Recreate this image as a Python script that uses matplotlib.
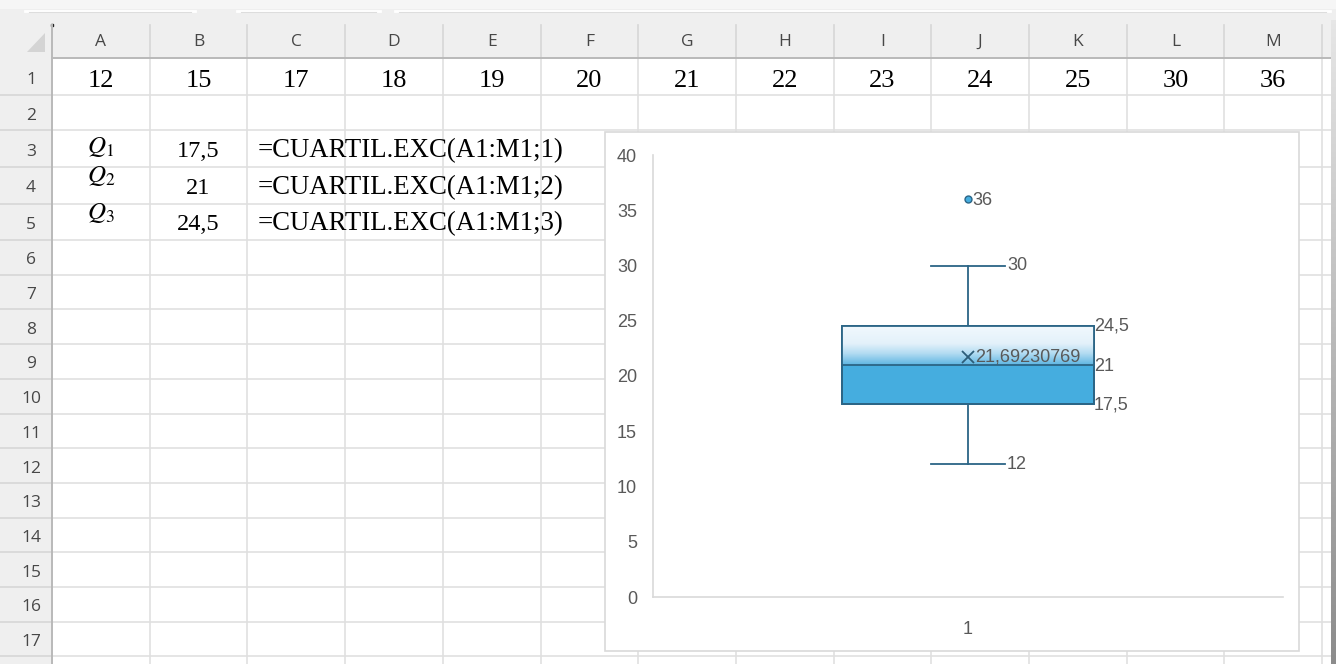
import numpy as np
import matplotlib
matplotlib.use("Agg")
import matplotlib.pyplot as plt
from matplotlib.patches import Rectangle, Polygon, PathPatch
from matplotlib.colors import LinearSegmentedColormap

# Row 1 of the sheet: the data set
columns = list("ABCDEFGHIJKLM")
values = [12, 15, 17, 18, 19, 20, 21, 22, 23, 24, 25, 30, 36]

# Quartiles (CUARTIL.EXC) in rows 3-5
quartile_names = [r"$Q_1$", r"$Q_2$", r"$Q_3$"]
quartiles = [17.5, 21, 24.5]
formulas = ["=CUARTIL.EXC(A1:M1;1)", "=CUARTIL.EXC(A1:M1;2)", "=CUARTIL.EXC(A1:M1;3)"]

# Whisker ends, outliers and category of the box plot
whisker_low, whisker_high = 12, 30
outliers = [36]
category = "1"
y_ticks = [0, 5, 10, 15, 20, 25, 30, 35, 40]


def fmt(v, digits=10):
    return ("%.*g" % (digits, v)).replace(".", ",")


W, H = 1336, 664
fig = plt.figure(figsize=(W / 100, H / 100), dpi=100)
fig.patch.set_facecolor("white")

# ---------------- spreadsheet ----------------
ax = fig.add_axes([0, 0, 1, 1])
ax.set_xlim(0, W)
ax.set_ylim(H, 0)
ax.axis("off")

col_edges = 52 + 97.7 * np.arange(len(columns) + 1)
row_edges = [58, 95, 130, 167, 204, 240] + list(240 + 34.7 * np.arange(1, 13))

head_bg = "#efefef"
grid_c = "#e0e0e0"
ax.add_patch(Rectangle((0, 0), W, 58, fc=head_bg, ec="none", zorder=0))
ax.add_patch(Rectangle((0, 58), 52, H - 58, fc=head_bg, ec="none", zorder=0))
ax.add_patch(Rectangle((0, 0), W, 9, fc="#f6f6f6", ec="none", zorder=0))
# tab outlines along the top band
for x0, x1 in [(25, 195), (237, 380), (395, 1330)]:
    ax.plot([x0, x1], [10.5, 10.5], color="#ffffff", lw=2, zorder=1)
    ax.plot([x0 + 4, x1 - 4], [12, 12], color="#dddddd", lw=0.8, zorder=1)

# select-all triangle and corner dot
ax.add_patch(Polygon([[45, 33], [45, 52], [27, 52]], closed=True,
                     fc="#d4d4d4", ec="none", zorder=1))
ax.plot([52], [25], marker="s", ms=1.5, color="#222222", zorder=2)

# gridlines
for y in row_edges[1:]:
    ax.plot([52, 1331], [y, y], color=grid_c, lw=1.2, zorder=1)
    ax.plot([0, 52], [y, y], color="#d6d6d6", lw=1.2, zorder=1)
for x in col_edges[1:]:
    ax.plot([x, x], [58, H], color=grid_c, lw=1.2, zorder=1)
    ax.plot([x, x], [25, 58], color="#d6d6d6", lw=1.2, zorder=1)
ax.plot([52, 1331], [58, 58], color="#b9b9b9", lw=1.4, zorder=2)
ax.plot([52, 52], [25, H], color="#b9b9b9", lw=1.4, zorder=2)

# column letters and row numbers
hdr_font = dict(family="Open Sans", fontsize=12.5, color="#474747")
for i, c in enumerate(columns):
    ax.text((col_edges[i] + col_edges[i + 1]) / 2, 42, c, ha="center",
            va="center", **hdr_font)
for r in range(len(row_edges) - 1):
    ax.text(31, (row_edges[r] + row_edges[r + 1]) / 2 + 3, str(r + 1),
            ha="center", va="center", **hdr_font)

# row 1 values
serif = "Liberation Serif"
for i, v in enumerate(values):
    ax.text((col_edges[i] + col_edges[i + 1]) / 2, 87, str(v), ha="center",
            va="baseline", family=serif, fontsize=19, color="black")

# quartile rows
val_base = [157, 194, 230]
q_base = [153, 182, 219]
plt.rcParams["mathtext.fontset"] = "stix"
for k in range(3):
    ax.text(101, q_base[k], quartile_names[k], ha="center", va="baseline",
            fontsize=18, color="black")
    ax.text((col_edges[1] + col_edges[2]) / 2, val_base[k], fmt(quartiles[k]),
            ha="center", va="baseline", family=serif, fontsize=17.5, color="black")
    ax.text(258, val_base[k], formulas[k], ha="left", va="baseline",
            family=serif, fontsize=19.3, color="black")

# right-hand window shadow
shade = np.linspace(0, 1, 200).reshape(-1, 1)
shadow_cmap = LinearSegmentedColormap.from_list("sh", ["#e6e6e6", "#8c8c8c"])
ax.imshow(shade, extent=[1331, 1336, H, 20], cmap=shadow_cmap, aspect="auto",
          zorder=3, interpolation="bilinear")
ax.set_xlim(0, W)
ax.set_ylim(H, 0)

# chart area
ax.add_patch(Rectangle((604.5, 131.5), 694, 519.5, fc="white", ec="#d9d9d9",
                       lw=1.2, zorder=4))

# ---------------- box plot ----------------
px_left, px_right, px_top, px_bottom = 653, 1283, 155, 597
cax = fig.add_axes([px_left / W, 1 - px_bottom / H, (px_right - px_left) / W,
                    (px_bottom - px_top) / H])
cax.set_zorder(5)
cax.patch.set_alpha(0)
cax.set_xlim(0.5, 1.5)
cax.set_ylim(0, 40)

mean = float(np.mean(values))
stats = [dict(med=quartiles[1], q1=quartiles[0], q3=quartiles[2],
              whislo=whisker_low, whishi=whisker_high, mean=mean,
              fliers=outliers, label=category)]

edge = "#2b6586"
fill = "#45addf"
box_w = 0.4
cap_w = 0.119
art = cax.bxp(stats, positions=[1], widths=box_w, capwidths=cap_w,
              patch_artist=True, showmeans=True,
              boxprops=dict(facecolor=fill, edgecolor=edge, linewidth=1.3),
              medianprops=dict(color=edge, linewidth=1.3, zorder=4),
              whiskerprops=dict(color=edge, linewidth=1.3),
              capprops=dict(color=edge, linewidth=1.3),
              meanprops=dict(marker="x", markeredgecolor="#2d5d79",
                             markersize=9, markeredgewidth=1.3, zorder=5),
              flierprops=dict(marker="o", markerfacecolor=fill,
                              markeredgecolor=edge, markersize=5,
                              markeredgewidth=1))

# light gradient on the upper half of the box
grad_cmap = LinearSegmentedColormap.from_list(
    "g", [(0, "#5db5e2"), (0.3, "#b3dcf2"), (0.55, "#e3f1fa"), (1, "#f1f8fd")])
grad = np.linspace(0, 1, 256).reshape(-1, 1)
cax.imshow(grad, extent=[1 - box_w / 2, 1 + box_w / 2, quartiles[1], quartiles[2]],
           origin="lower", cmap=grad_cmap, aspect="auto", zorder=2.5,
           interpolation="bilinear")
cax.set_xlim(0.5, 1.5)
cax.set_ylim(0, 40)
box = art["boxes"][0]
cax.add_patch(PathPatch(box.get_path(), fc="none", ec=edge, lw=1.3, zorder=3.5))

# data labels
lab = dict(fontsize=13, color="#595959", family="Liberation Sans",
           va="center", ha="left", zorder=6)
cax.annotate(fmt(whisker_high), (1 + cap_w / 2, whisker_high),
             xytext=(1, 0), textcoords="offset points", **lab)
cax.annotate(fmt(whisker_low), (1 + cap_w / 2, whisker_low),
             xytext=(1, 0), textcoords="offset points", **lab)
for q, dy in zip(quartiles, [-1, -1, 0]):
    cax.annotate(fmt(q), (1 + box_w / 2, q), xytext=(0, dy),
                 textcoords="offset points", **lab)
for o in outliers:
    cax.annotate(fmt(o), (1, o), xytext=(3, -1), textcoords="offset points", **lab)
cax.annotate(fmt(mean), (1, mean), xytext=(5, 0), textcoords="offset points", **lab)

# axes styling
for s in ["top", "right"]:
    cax.spines[s].set_visible(False)
for s in ["left", "bottom"]:
    cax.spines[s].set_color("#d9d9d9")
    cax.spines[s].set_linewidth(1.2)
cax.set_yticks(y_ticks)
cax.set_xticks([1])
cax.set_xticklabels([category])
cax.tick_params(axis="y", length=0, pad=11.5, labelsize=13, labelcolor="#595959")
cax.tick_params(axis="x", length=0, pad=17, labelsize=13, labelcolor="#595959")
for t in cax.get_xticklabels() + cax.get_yticklabels():
    t.set_family("Liberation Sans")

fig.savefig("out.png", dpi=100, facecolor="white")
